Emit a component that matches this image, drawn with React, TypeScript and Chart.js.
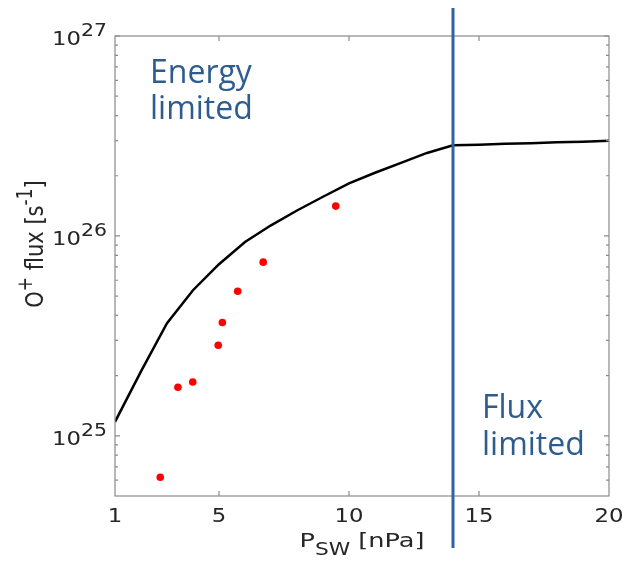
import React, { useEffect, useRef } from 'react';
import { Chart, registerables } from 'chart.js';

Chart.register(...registerables);

// ---- data ----
const modelP = [1, 2, 3, 4, 5, 6, 7, 8, 9, 10, 11, 12, 13, 14, 15, 16, 17, 18, 19, 20];
const modelFlux = [
  1.175e25, 2.1e25, 3.66e25, 5.35e25, 7.22e25, 9.33e25, 1.13e26, 1.34e26, 1.57e26, 1.83e26,
  2.07e26, 2.32e26, 2.6e26, 2.84e26, 2.86e26, 2.89e26, 2.91e26, 2.94e26, 2.96e26, 2.99e26,
];
const obsP = [2.74, 3.42, 3.99, 4.97, 5.13, 5.72, 6.7, 9.49];
const obsFlux = [6.2e24, 1.75e25, 1.86e25, 2.84e25, 3.69e25, 5.29e25, 7.39e25, 1.41e26];
const xTickValues = [1, 5, 10, 15, 20];
const yDecades = [25, 26, 27];
const yMinorMultipliers = [2, 3, 4, 5, 6, 7, 8, 9];
const boundaryP = 14;
const xMin = 1;
const xMax = 20;
const yMin = 5e24;
const yMax = 1e27;
const energyLabel = ['Energy', 'limited'];
const fluxLabel = ['Flux', 'limited'];

const TICK_FONT = 'DejaVu Sans';
const TEXT_COLOR = '#262626';
const BLUE_TEXT = '#2d5c8e';
const BLUE_LINE = '#3163a3';
const AXIS_COLOR = '#8a8a8a';
const SX = 1.2; // horizontal stretch of the reference's text

type Part = { text: string; size: number; dy: number };

function richWidth(ctx: CanvasRenderingContext2D, parts: Part[], family: string) {
  let w = 0;
  for (const p of parts) {
    ctx.font = `${p.size}px "${family}"`;
    w += ctx.measureText(p.text).width;
  }
  return w;
}

function drawParts(ctx: CanvasRenderingContext2D, parts: Part[], family: string, x: number, y: number) {
  let cx = x;
  ctx.textAlign = 'left';
  ctx.textBaseline = 'alphabetic';
  for (const p of parts) {
    ctx.font = `${p.size}px "${family}"`;
    ctx.fillText(p.text, cx, y + p.dy);
    cx += ctx.measureText(p.text).width;
  }
}

// draw horizontally stretched rich text; anchor: 'left' | 'center' | 'right'
function drawRich(
  ctx: CanvasRenderingContext2D,
  parts: Part[],
  family: string,
  x: number,
  y: number,
  anchor: 'left' | 'center' | 'right',
  sx: number
) {
  const w = richWidth(ctx, parts, family);
  ctx.save();
  ctx.translate(x, y);
  ctx.scale(sx, 1);
  const start = anchor === 'left' ? 0 : anchor === 'center' ? -w / 2 : -w;
  drawParts(ctx, parts, family, start, 0);
  ctx.restore();
}

const decorPlugin = {
  id: 'decor',
  afterDatasetsDraw(chart: any) {
    const ctx: CanvasRenderingContext2D = chart.ctx;
    const { left, right, top, bottom } = chart.chartArea;
    const xs = chart.scales.x;
    const ys = chart.scales.y;
    ctx.save();

    // box
    ctx.strokeStyle = AXIS_COLOR;
    ctx.lineWidth = 1.2;
    ctx.strokeRect(left, top, right - left, bottom - top);

    // y ticks (major + minor), both sides, inward
    ctx.beginPath();
    for (let d = 24; d <= 27; d++) {
      const major = 10 ** d;
      if (major >= yMin && major <= yMax) {
        const y = ys.getPixelForValue(major);
        ctx.moveTo(left, y); ctx.lineTo(left + 5, y);
        ctx.moveTo(right, y); ctx.lineTo(right - 5, y);
      }
      for (const m of yMinorMultipliers) {
        const v = m * 10 ** d;
        if (v > yMin && v < yMax) {
          const y = ys.getPixelForValue(v);
          ctx.moveTo(left, y); ctx.lineTo(left + 3, y);
          ctx.moveTo(right, y); ctx.lineTo(right - 3, y);
        }
      }
    }
    // x ticks, bottom + top, inward
    for (const v of xTickValues) {
      if (v <= xMin || v >= xMax) continue;
      const x = xs.getPixelForValue(v);
      ctx.moveTo(x, bottom); ctx.lineTo(x, bottom - 5);
      ctx.moveTo(x, top); ctx.lineTo(x, top + 5);
    }
    ctx.stroke();

    // x tick labels
    ctx.fillStyle = TEXT_COLOR;
    for (const v of xTickValues) {
      drawRich(ctx, [{ text: String(v), size: 19, dy: 0 }], TICK_FONT, xs.getPixelForValue(v), bottom + 26, 'center', SX);
    }

    // y tick labels 10^d
    for (const d of yDecades) {
      const y = ys.getPixelForValue(10 ** d);
      const parts: Part[] = [
        { text: '10', size: 19, dy: 0 },
        { text: String(d), size: 17, dy: -9 },
      ];
      drawRich(ctx, parts, TICK_FONT, left - 8, y + 9, 'right', SX);
    }

    // x title: P_SW [nPa]
    const xt: Part[] = [
      { text: 'P', size: 20, dy: 0 },
      { text: 'SW', size: 17, dy: 8 },
      { text: ' [nPa]', size: 20, dy: 0 },
    ];
    drawRich(ctx, xt, TICK_FONT, (left + right) / 2, bottom + 51, 'center', 1.28);

    // y title: O+ flux [s-1]
    const yt: Part[] = [
      { text: 'O', size: 21, dy: 0 },
      { text: '+', size: 17, dy: -9 },
      { text: ' flux [s', size: 21, dy: 0 },
      { text: '-1', size: 17, dy: -9 },
      { text: ']', size: 21, dy: 0 },
    ];
    const ytw = richWidth(ctx, yt, TICK_FONT);
    ctx.save();
    ctx.translate(left - 72, (top + bottom) / 2 - 22);
    ctx.scale(SX, 1);
    ctx.rotate(-Math.PI / 2);
    drawParts(ctx, yt, TICK_FONT, -ytw / 2, 0);
    ctx.restore();

    // boundary line
    const bx = xs.getPixelForValue(boundaryP);
    ctx.strokeStyle = BLUE_LINE;
    ctx.lineWidth = 3;
    ctx.beginPath();
    ctx.moveTo(bx, top - 28);
    ctx.lineTo(bx, bottom + 52);
    ctx.stroke();

    // region labels
    ctx.fillStyle = BLUE_TEXT;
    ctx.font = '32px "Open Sans"';
    ctx.textAlign = 'left';
    ctx.textBaseline = 'alphabetic';
    ctx.fillText(energyLabel[0], left + 35, top + 47);
    ctx.fillText(energyLabel[1], left + 35, top + 83);
    ctx.fillText(fluxLabel[0], bx + 29, bottom - 78);
    ctx.fillText(fluxLabel[1], bx + 29, bottom - 41);

    ctx.restore();
  },
};

export default function App() {
  const ref = useRef<HTMLCanvasElement | null>(null);
  useEffect(() => {
    if (!ref.current) return;
    const chart = new Chart(ref.current, {
      type: 'scatter',
      data: {
        datasets: [
          {
            type: 'line',
            data: modelP.map((p, i) => ({ x: p, y: modelFlux[i] })),
            borderColor: '#000000',
            borderWidth: 2.5,
            pointRadius: 0,
            fill: false,
            tension: 0,
            order: 2,
          } as any,
          {
            type: 'scatter',
            data: obsP.map((p, i) => ({ x: p, y: obsFlux[i] })),
            backgroundColor: '#ff0000',
            borderColor: '#ff0000',
            borderWidth: 0,
            pointRadius: 3.8,
            pointStyle: 'circle',
            order: 1,
          },
        ],
      },
      options: {
        responsive: false,
        animation: false,
        devicePixelRatio: 1,
        layout: { padding: { left: 115, top: 36, right: 14, bottom: 65 } },
        plugins: { legend: { display: false }, tooltip: { enabled: false } },
        scales: {
          x: { type: 'linear', min: xMin, max: xMax, display: false },
          y: { type: 'logarithmic', min: yMin, max: yMax, display: false },
        },
      },
      plugins: [decorPlugin],
    });
    return () => chart.destroy();
  }, []);
  return (
    <div style={{ position: 'fixed', left: 0, top: 0, width: 623, height: 561, background: '#fff' }}>
      <canvas ref={ref} width={623} height={561} />
    </div>
  );
}
